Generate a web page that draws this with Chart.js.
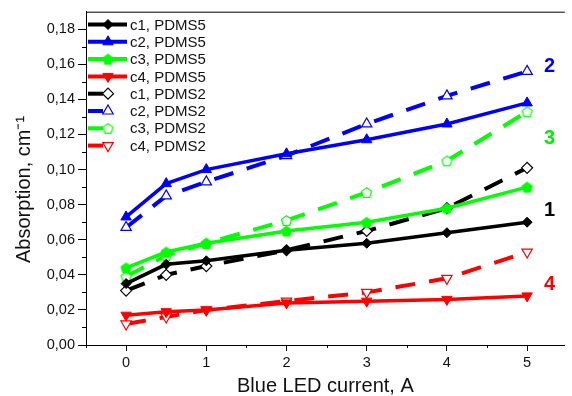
<!DOCTYPE html>
<html>
<head>
<meta charset="utf-8">
<script src="https://cdn.jsdelivr.net/npm/chart.js@4/dist/chart.umd.min.js"></script>
<style>
	body { margin: 0; background: #fff; }
	canvas { display: block; }
</style>
</head>
<body>
<canvas id="chart" width="572" height="396"></canvas>
<script>
// data
var current = [0, 0.5, 1, 2, 3, 4, 5]
var c1_PDMS5 = [0.035, 0.046, 0.048, 0.054, 0.058, 0.064, 0.070]
var c2_PDMS5 = [0.073, 0.092, 0.100, 0.109, 0.117, 0.126, 0.138]
var c3_PDMS5 = [0.044, 0.053, 0.058, 0.065, 0.070, 0.078, 0.090]
var c4_PDMS5 = [0.017, 0.019, 0.020, 0.024, 0.025, 0.026, 0.028]
var c1_PDMS2 = [0.031, 0.040, 0.045, 0.054, 0.065, 0.078, 0.101]
var c2_PDMS2 = [0.067, 0.085, 0.093, 0.108, 0.126, 0.142, 0.156]
var c3_PDMS2 = [0.039, 0.051, 0.058, 0.071, 0.087, 0.105, 0.133]
var c4_PDMS2 = [0.012, 0.016, 0.020, 0.025, 0.030, 0.038, 0.053]

// ticks
var xTicks = [0, 1, 2, 3, 4, 5]
var xMinorTicks = [-0.5, 0.5, 1.5, 2.5, 3.5, 4.5]
var yTicks = [0, 0.02, 0.04, 0.06, 0.08, 0.10, 0.12, 0.14, 0.16, 0.18]
var yMinorTicks = [0.01, 0.03, 0.05, 0.07, 0.09, 0.11, 0.13, 0.15, 0.17]

// curve numbers on the right
var curveNames = ['2', '3', '1', '4']
var curveNameX = [5.28, 5.28, 5.28, 5.28]
var curveNameY = [0.159, 0.118, 0.0765, 0.0345]
var curveNameColors = ['#0000ff', '#00ee00', '#000000', '#ff0000']

var BLACK = '#000000', BLUE = '#0000ff', GREEN = '#00ff00', RED = '#ff0000'

function pts (ys) {
	return current.map((x, i) => ({ x: x, y: ys[i] }))
}

// pentagon marker as image
function pentagon (fill, stroke) {
	var c = document.createElement('canvas')
	c.width = 13
	c.height = 13
	var g = c.getContext('2d')
	g.beginPath()
	for (var i = 0; i < 5; i++) {
		var a = -Math.PI / 2 + i * 2 * Math.PI / 5
		var px = 6.5 + 5.3 * Math.cos(a), py = 7 + 5.3 * Math.sin(a)
		if (i === 0) g.moveTo(px, py)
		else g.lineTo(px, py)
	}
	g.closePath()
	g.fillStyle = fill
	g.fill()
	g.lineWidth = 1.2
	g.strokeStyle = stroke
	g.stroke()
	return c
}

function solid (label, ys, color, style, radius, rotation) {
	return {
		label: label,
		data: pts(ys),
		borderColor: color,
		backgroundColor: color,
		borderWidth: 3.5,
		pointStyle: style,
		pointRadius: radius,
		pointRotation: rotation || 0,
		pointBackgroundColor: color,
		pointBorderColor: color,
		pointBorderWidth: 1,
		tension: 0,
		dashed: false
	}
}

function dashed (label, ys, color, style, radius, rotation) {
	return {
		label: label,
		data: pts(ys),
		borderColor: color,
		backgroundColor: '#ffffff',
		borderWidth: 4,
		borderDash: [20, 14],
		pointStyle: style,
		pointRadius: radius,
		pointRotation: rotation || 0,
		pointBackgroundColor: '#ffffff',
		pointBorderColor: color,
		pointBorderWidth: 1.2,
		tension: 0,
		dashed: true
	}
}

var datasets = [
	solid('c1, PDMS5', c1_PDMS5, BLACK, 'rectRot', 5),
	solid('c2, PDMS5', c2_PDMS5, BLUE, 'triangle', 6),
	solid('c3, PDMS5', c3_PDMS5, GREEN, pentagon(GREEN, GREEN), 6),
	solid('c4, PDMS5', c4_PDMS5, RED, 'triangle', 6, 180),
	dashed('c1, PDMS2', c1_PDMS2, BLACK, 'rectRot', 5.5),
	dashed('c2, PDMS2', c2_PDMS2, BLUE, 'triangle', 6),
	dashed('c3, PDMS2', c3_PDMS2, GREEN, pentagon('#ffffff', GREEN), 6),
	dashed('c4, PDMS2', c4_PDMS2, RED, 'triangle', 6, 180)
]

// minor ticks, top frame, curve numbers and the legend
var decorations = {
	id: 'decorations',
	afterDatasetsDraw: function (chart) {
		var ctx = chart.ctx
		var area = chart.chartArea
		var xs = chart.scales.x, ys = chart.scales.y
		ctx.save()
		ctx.strokeStyle = '#000'
		ctx.lineWidth = 1

		// top frame
		ctx.beginPath()
		ctx.moveTo(area.left, area.top + 0.5)
		ctx.lineTo(area.right, area.top + 0.5)
		ctx.stroke()

		// minor ticks
		ctx.beginPath()
		xMinorTicks.forEach(v => {
			var px = Math.round(xs.getPixelForValue(v)) + 0.5
			ctx.moveTo(px, area.bottom)
			ctx.lineTo(px, area.bottom + 3)
		})
		yMinorTicks.forEach(v => {
			var py = Math.round(ys.getPixelForValue(v)) + 0.5
			ctx.moveTo(area.left, py)
			ctx.lineTo(area.left - 4, py)
		})
		ctx.stroke()

		// curve numbers
		ctx.font = 'bold 20px "Liberation Sans", Arial, sans-serif'
		ctx.textAlign = 'center'
		ctx.textBaseline = 'middle'
		curveNames.forEach((t, i) => {
			ctx.fillStyle = curveNameColors[i]
			ctx.fillText(t, xs.getPixelForValue(curveNameX[i]), ys.getPixelForValue(curveNameY[i]))
		})

		// legend
		ctx.font = '15px "Liberation Sans", Arial, sans-serif'
		ctx.textAlign = 'left'
		chart.data.datasets.forEach((ds, i) => {
			var y = 24.5 + i * 17.3
			ctx.strokeStyle = ds.borderColor
			ctx.lineWidth = 4
			ctx.setLineDash([])
			ctx.beginPath()
			ctx.moveTo(88, y)
			ctx.lineTo(ds.dashed ? 103 : 127, y)
			ctx.stroke()
			var opts = {
				pointStyle: ds.pointStyle,
				radius: ds.pointRadius,
				rotation: ds.pointRotation,
				borderWidth: ds.pointBorderWidth
			}
			ctx.fillStyle = ds.pointBackgroundColor
			ctx.strokeStyle = ds.pointBorderColor
			ctx.lineWidth = ds.pointBorderWidth
			if (Chart.helpers && Chart.helpers.drawPoint) {
				Chart.helpers.drawPoint(ctx, opts, 108, y)
			}
			ctx.fillStyle = '#111'
			ctx.fillText(ds.label, 130, y + 1)
		})
		ctx.restore()
	}
}

var ctx = document.getElementById('chart').getContext('2d')

var chart = new Chart(ctx, {
	type: 'line',
	data: { datasets: datasets },
	options: {
		responsive: false,
		animation: false,
		devicePixelRatio: 1,
		layout: {
			padding: { top: 10, right: 0, left: 0, bottom: 0 }
		},
		plugins: {
			legend: { display: false },
			tooltip: { enabled: false }
		},
		scales: {
			x: {
				type: 'linear',
				min: -0.5,
				max: 5.47,
				afterBuildTicks: scale => { scale.ticks = xTicks.map(v => ({ value: v })) },
				afterFit: scale => { scale.height = 51 },
				border: { color: '#000', width: 1 },
				grid: { drawOnChartArea: false, drawTicks: true, tickLength: 6, tickColor: '#000' },
				ticks: {
					color: '#111',
					padding: 3,
					maxRotation: 0,
					font: { family: '"Liberation Sans", Arial, sans-serif', size: 14.5 },
					callback: v => String(v)
				},
				title: {
					display: true,
					text: 'Blue LED current, A',
					color: '#111',
					padding: { top: 0, bottom: 0 },
					font: { family: '"Liberation Sans", Arial, sans-serif', size: 20, lineHeight: 1 }
				}
			},
			y: {
				min: 0,
				max: 0.19,
				afterBuildTicks: scale => { scale.ticks = yTicks.map(v => ({ value: v })) },
				afterFit: scale => { scale.width = 86 },
				border: { color: '#000', width: 1 },
				grid: { drawOnChartArea: false, drawTicks: true, tickLength: 8, tickColor: '#000' },
				ticks: {
					color: '#111',
					padding: 3,
					font: { family: '"Liberation Sans", Arial, sans-serif', size: 14.5 },
					callback: v => v.toFixed(2).replace('.', ',')
				},
				title: {
					display: true,
					text: 'Absorption, cm\u207B\u00B9    ',
					color: '#111',
					padding: { top: 12, bottom: 0 },
					font: { family: '"Liberation Sans", Arial, sans-serif', size: 20 }
				}
			}
		}
	},
	plugins: [decorations]
})
</script>
</body>
</html>
